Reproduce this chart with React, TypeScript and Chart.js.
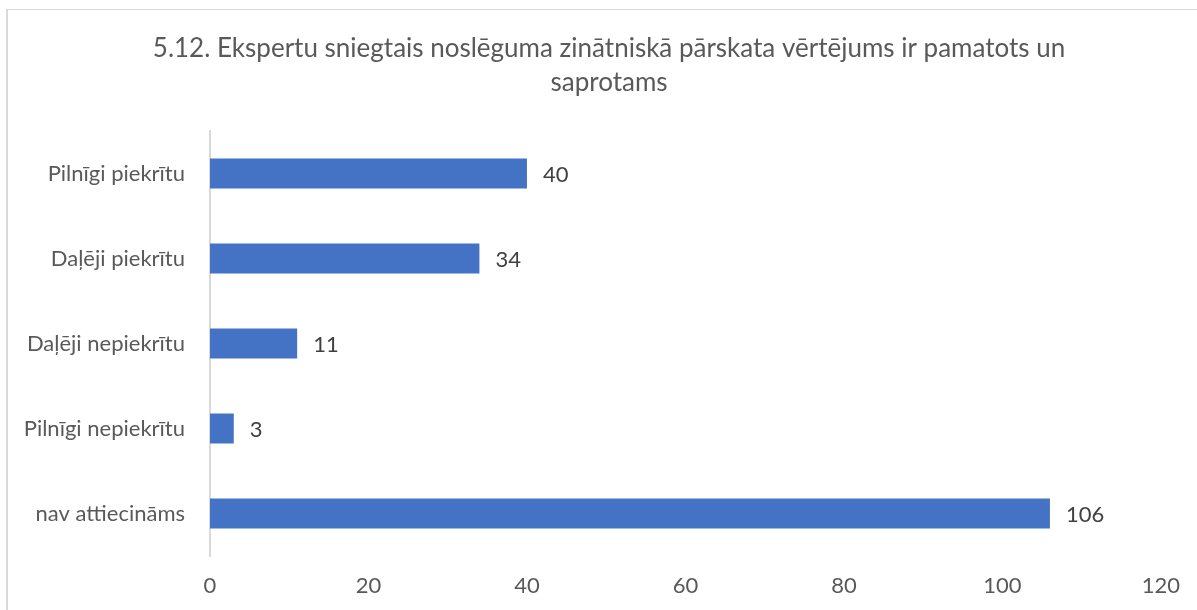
import React, { useEffect, useRef } from "react";
import { Chart, registerables } from "chart.js";

Chart.register(...registerables);

const titleLines = [
  "5.12. Ekspertu sniegtais noslēguma zinātniskā pārskata vērtējums ir pamatots un",
  "saprotams",
];
const categories = [
  "Pilnīgi piekrītu",
  "Daļēji piekrītu",
  "Daļēji nepiekrītu",
  "Pilnīgi nepiekrītu",
  "nav attiecināms",
];
const values = [40, 34, 11, 3, 106];
const xMin = 0;
const xMax = 120;
const xStep = 20;

const FONT = "Lato, 'Open Sans', sans-serif";
const TEXT = "#595959";

const titlePlugin = {
  id: "customTitle",
  afterDraw(chart: any) {
    const ctx = chart.ctx;
    ctx.save();
    ctx.font = `26px ${FONT}`;
    ctx.fillStyle = TEXT;
    ctx.textAlign = "center";
    ctx.textBaseline = "alphabetic";
    const cx = 609;
    titleLines.forEach((t, i) => ctx.fillText(t, cx, 57 + i * 34));
    ctx.restore();
  },
};

const labelPlugin = {
  id: "barLabels",
  afterDatasetsDraw(chart: any) {
    const ctx = chart.ctx;
    const meta = chart.getDatasetMeta(0);
    ctx.save();
    ctx.font = `22px ${FONT}`;
    ctx.fillStyle = "#404040";
    ctx.textAlign = "left";
    ctx.textBaseline = "alphabetic";
    meta.data.forEach((bar: any, i: number) => {
      ctx.fillText(String(values[i]), bar.x + 16, bar.y + 8.5);
    });
    ctx.restore();
  },
};

export default function App() {
  const ref = useRef<HTMLCanvasElement | null>(null);
  useEffect(() => {
    if (!ref.current) return;
    const chart = new Chart(ref.current, {
      type: "bar",
      data: {
        labels: categories,
        datasets: [
          {
            data: values,
            backgroundColor: "#4472C4",
            borderWidth: 0,
            barPercentage: 0.355,
            categoryPercentage: 1,
          },
        ],
      },
      options: {
        indexAxis: "y",
        animation: false,
        responsive: false,
        maintainAspectRatio: false,
        layout: { padding: { top: 131, right: 36, bottom: 0, left: 0 } },
        plugins: {
          legend: { display: false },
          title: { display: false },
          tooltip: { enabled: false },
        },
        scales: {
          x: {
            min: xMin,
            max: xMax,
            ticks: {
              stepSize: xStep,
              color: TEXT,
              font: { family: FONT, size: 22 },
              padding: 17,
            },
            grid: { display: false, drawTicks: false },
            border: { display: false },
            afterFit: (s: any) => {
              s.height = 54;
            },
          },
          y: {
            ticks: {
              color: TEXT,
              font: { family: FONT, size: 22 },
              padding: 25,
            },
            grid: { display: false, drawTicks: false },
            border: { display: true, color: "#d9d9d9", width: 2 },
            afterFit: (s: any) => {
              s.width = 210;
            },
          },
        },
      },
      plugins: [titlePlugin, labelPlugin],
    });
    return () => chart.destroy();
  }, []);
  return (
    <div style={{ position: "fixed", left: 0, top: 0, width: 1197, height: 610, background: "#fff", overflow: "hidden" }}>
      <div
        style={{
          position: "absolute",
          left: 6,
          top: 9,
          width: 1300,
          height: 700,
          borderLeft: "2px solid #d9d9d9",
          borderTop: "1px solid #d9d9d9",
        }}
      />
      <canvas ref={ref} width={1197} height={610} style={{ position: "absolute", left: 0, top: 0, width: 1197, height: 610 }} />
    </div>
  );
}
